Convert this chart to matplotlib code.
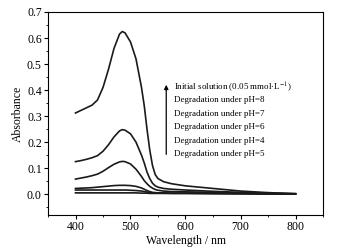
import matplotlib
matplotlib.use('Agg')
import matplotlib.pyplot as plt
from matplotlib.ticker import MultipleLocator

plt.rcParams['font.family'] = ['Liberation Serif', 'DejaVu Serif']
plt.rcParams['mathtext.fontset'] = 'stix'

# wavelength grid
wl = [400, 410, 420, 430, 440, 450, 460, 470, 480, 485, 490, 500, 510, 520, 525, 530, 535, 540, 545, 550, 560, 575, 600, 650, 700, 750, 800]

initial = [0.312, 0.322, 0.332, 0.342, 0.362, 0.41, 0.48, 0.56, 0.615, 0.625, 0.62, 0.585, 0.52, 0.41, 0.34, 0.25, 0.17, 0.11, 0.075, 0.06, 0.048, 0.04, 0.032, 0.022, 0.012, 0.006, 0.002]
ph8 = [0.125, 0.129, 0.134, 0.14, 0.148, 0.165, 0.19, 0.22, 0.243, 0.248, 0.246, 0.232, 0.2, 0.15, 0.12, 0.085, 0.06, 0.042, 0.032, 0.027, 0.022, 0.019, 0.016, 0.011, 0.007, 0.004, 0.002]
ph7 = [0.058, 0.062, 0.066, 0.071, 0.077, 0.088, 0.102, 0.115, 0.124, 0.126, 0.125, 0.116, 0.096, 0.068, 0.052, 0.04, 0.03, 0.023, 0.018, 0.015, 0.012, 0.01, 0.009, 0.007, 0.005, 0.003, 0.001]
ph6 = [0.022, 0.023, 0.024, 0.025, 0.027, 0.029, 0.031, 0.033, 0.034, 0.034, 0.034, 0.033, 0.03, 0.024, 0.019, 0.014, 0.01, 0.007, 0.006, 0.005, 0.005, 0.004, 0.004, 0.003, 0.002, 0.001, 0.001]
ph4 = [0.016, 0.016, 0.016, 0.016, 0.016, 0.016, 0.016, 0.016, 0.016, 0.016, 0.016, 0.015, 0.014, 0.012, 0.01, 0.008, 0.006, 0.005, 0.004, 0.004, 0.004, 0.003, 0.003, 0.003, 0.002, 0.001, 0.001]
ph5 = [0.005, 0.005, 0.005, 0.005, 0.005, 0.005, 0.005, 0.005, 0.005, 0.005, 0.005, 0.005, 0.005, 0.004, 0.004, 0.004, 0.003, 0.003, 0.003, 0.003, 0.003, 0.003, 0.003, 0.002, 0.002, 0.001, 0.001]

labels = ['Initial solution (0.05 mmol$\\cdot$L$^{-1}$)',
          'Degradation under pH=8',
          'Degradation under pH=7',
          'Degradation under pH=6',
          'Degradation under pH=4',
          'Degradation under pH=5']

fig = plt.figure(figsize=(3.45, 2.49), dpi=100)
ax = fig.add_axes([48 / 345, 1 - 215 / 249, 275 / 345, 203 / 249])

for y in [initial, ph8, ph7, ph6, ph4, ph5]:
    ax.plot(wl, y, color='#1a1a1a', lw=1.2, solid_joinstyle='round')

ax.set_xlim(350, 850)
ax.set_ylim(-0.08, 0.7)
ax.xaxis.set_major_locator(MultipleLocator(100))
ax.xaxis.set_minor_locator(MultipleLocator(50))
ax.yaxis.set_major_locator(MultipleLocator(0.1))
ax.yaxis.set_minor_locator(MultipleLocator(0.05))
ax.yaxis.set_major_formatter(plt.FuncFormatter(lambda v, p: '%.1f' % v))
ax.tick_params(which='both', direction='out', labelsize=8.5, pad=1.5)
ax.tick_params(which='major', length=3)
ax.tick_params(which='minor', length=1.5)
ax.set_xlabel('Wavelength / nm', fontsize=8.5, labelpad=1)
ax.set_ylabel('Absorbance', fontsize=8.5, labelpad=2)

# label block with arrow
ax.annotate('', xy=(0.43, 0.655), xytext=(0.43, 0.285), xycoords='axes fraction',
            arrowprops=dict(arrowstyle='-|>', color='k', lw=0.9, mutation_scale=6))
for i, t in enumerate(labels):
    ax.text(0.458, 0.631 - i * 0.0665, t, transform=ax.transAxes, fontsize=6.5, va='center')

fig.savefig('out.png', dpi=100)
